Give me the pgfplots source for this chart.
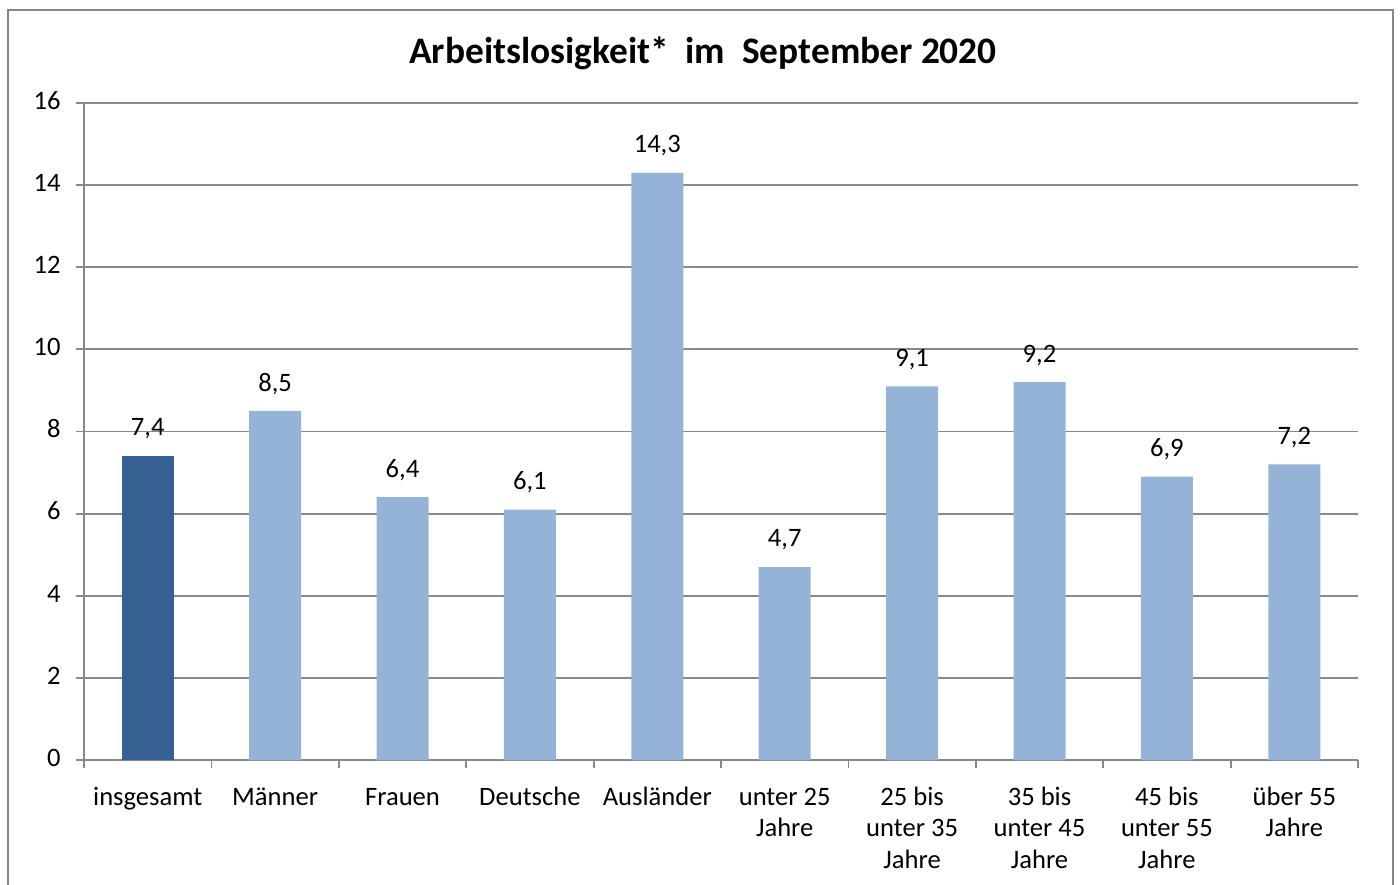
\documentclass[border=0pt]{standalone}
\usepackage{pgfplots}
\pgfplotsset{compat=1.18}
\usepackage{fontspec}
\setmainfont{Carlito}
\definecolor{darkbar}{HTML}{366092}
\definecolor{lightbar}{HTML}{95B3D7}
\definecolor{gridgray}{HTML}{898989}
\definecolor{bordergray}{HTML}{868686}
\begin{document}
\begin{tikzpicture}
\path[use as bounding box] (-42pt,-62pt) rectangle (658pt,380pt);
\begin{axis}[
  at={(0,0)}, anchor=south west,
  scale only axis, width=637pt, height=328.5pt,
  xmin=-0.5, xmax=9.5, ymin=0, ymax=16,
  axis lines*=left,
  axis line style={gridgray, line width=0.9pt},
  ytick={0,2,...,16},
  ymajorgrids, major grid style={gridgray, line width=0.9pt},
  xtick={0,...,9},
  xticklabels={insgesamt,Männer,Frauen,Deutsche,Ausländer,{unter 25\\Jahre},{25 bis\\unter 35\\Jahre},{35 bis\\unter 45\\Jahre},{45 bis\\unter 55\\Jahre},{über 55\\Jahre}},
  major x tick style={draw=none},
  minor xtick={-0.5,0.5,...,9.5},
  minor x tick style={gridgray, line width=0.9pt},
  minor tick length=4pt,
  major tick length=4pt,
  tick align=outside,
  y tick style={gridgray, line width=0.9pt},
  tick label style={font=\fontsize{13.3}{15.75}\selectfont},
  typeset ticklabels with strut,
  xticklabel style={align=center, anchor=north, inner sep=0pt, yshift=-7.5pt},
  yticklabel style={anchor=east, inner sep=0pt, xshift=-7.5pt},
  /pgf/number format/assume math mode=true,
  ybar, bar width=26pt, bar shift=0pt,
  nodes near coords,
  every node near coord/.append style={font=\fontsize{13.3}{15}\selectfont, anchor=center, yshift=13.5pt, black,
    /pgf/number format/.cd, fixed, fixed zerofill, precision=1, use comma, assume math mode=true},
  clip=false,
]
\addplot[fill=darkbar, draw=none] coordinates {(0,7.4)};
\addplot[fill=lightbar, draw=none] coordinates {(1,8.5) (2,6.4) (3,6.1) (4,14.3) (5,4.7) (6,9.1) (7,9.2) (8,6.9) (9,7.2)};
\end{axis}
\draw[bordergray, line width=0.8pt] (-38pt,-63pt) -- (-38pt,375pt) -- (654.5pt,375pt) -- (654.5pt,-63pt);
\node[font=\fontsize{18.7}{22}\selectfont\bfseries] at (309.5pt,353.5pt) {Arbeitslosigkeit*\ \ im\ \ September 2020};
\end{tikzpicture}
\end{document}
